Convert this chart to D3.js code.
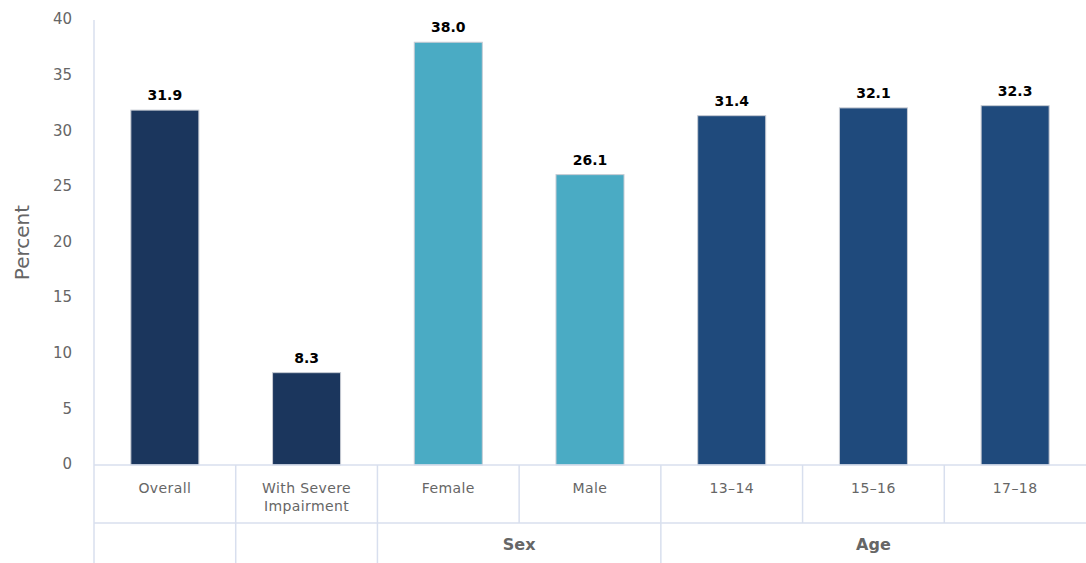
<!DOCTYPE html>
<html>
<head>
<meta charset="utf-8">
<script src="https://cdn.jsdelivr.net/npm/d3@7"></script>
<style>
  body { margin: 0; background: #fff; }
  svg { display: block; font-family: "DejaVu Sans", Verdana, sans-serif; }
</style>
</head>
<body>
<svg id="chart" width="1086" height="563"></svg>
<script>
// Share of students (percent) by subgroup
const categories = ["Overall", "With Severe Impairment", "Female", "Male", "13\u201314", "15\u201316", "17\u201318"];
const categoryLines = [["Overall"], ["With Severe", "Impairment"], ["Female"], ["Male"], ["13\u201314"], ["15\u201316"], ["17\u201318"]];
const values = [31.9, 8.3, 38.0, 26.1, 31.4, 32.1, 32.3];
const groups = ["", "", "Sex", "Sex", "Age", "Age", "Age"];
const yTicks = [0, 5, 10, 15, 20, 25, 30, 35, 40];
const groupColors = { "": "#1b365d", "Sex": "#4aabc4", "Age": "#1f4a7c" };

const svg = d3.select("#chart");
const plotLeft = 94, plotRight = 1086, plotTop = 20, baseline = 465;
const catRowBottom = 523, groupRowBottom = 563;
const gridColor = "#d8dfee";
const textColor = "#666666";

const x = d3.scaleBand().domain(categories).range([plotLeft, plotRight]).paddingInner(0).paddingOuter(0);
const y = d3.scaleLinear().domain([0, 40]).range([baseline, plotTop]);
const barW = x.bandwidth() * 0.48;

// y tick labels
svg.append("g").selectAll("text").data(yTicks).join("text")
  .attr("x", 72).attr("y", d => y(d) - 1).attr("dy", "0.35em")
  .attr("text-anchor", "end").attr("fill", textColor)
  .style("font-size", "15px").text(d => d);

// y axis title
svg.append("text")
  .attr("transform", `translate(29,${(plotTop + baseline) / 2}) rotate(-90)`)
  .attr("text-anchor", "middle").attr("fill", textColor)
  .style("font-size", "20px").text("Percent");

// bars
svg.append("g").selectAll("rect").data(values).join("rect")
  .attr("x", (d, i) => x(categories[i]) + (x.bandwidth() - barW) / 2)
  .attr("y", d => y(d))
  .attr("width", barW)
  .attr("height", d => baseline - y(d))
  .attr("fill", (d, i) => groupColors[groups[i]])
  .attr("stroke", "#c8ccd4").attr("stroke-width", 1);

// value labels
svg.append("g").selectAll("text").data(values).join("text")
  .attr("x", (d, i) => x(categories[i]) + x.bandwidth() / 2)
  .attr("y", d => y(d) - 10)
  .attr("text-anchor", "middle")
  .attr("fill", "#000")
  .attr("stroke", "#fff").attr("stroke-width", 2).attr("paint-order", "stroke")
  .style("font-size", "14px").style("font-weight", "bold")
  .text(d => d.toFixed(1));

// axis lines
const lines = svg.append("g").attr("stroke", gridColor).attr("stroke-width", 1.5);
lines.append("line").attr("x1", plotLeft).attr("x2", plotLeft).attr("y1", plotTop).attr("y2", groupRowBottom);
lines.append("line").attr("x1", plotLeft).attr("x2", plotRight).attr("y1", baseline).attr("y2", baseline);
lines.append("line").attr("x1", plotLeft).attr("x2", plotRight).attr("y1", catRowBottom).attr("y2", catRowBottom);

// category separators
categories.slice(1).forEach(c => {
  lines.append("line").attr("x1", x(c)).attr("x2", x(c)).attr("y1", baseline).attr("y2", catRowBottom);
});

// group spans (consecutive runs)
const spans = [];
categories.forEach((c, i) => {
  const last = spans[spans.length - 1];
  if (last && groups[i] !== "" && last.name === groups[i]) { last.end = i; }
  else spans.push({ name: groups[i], start: i, end: i });
});
spans.forEach(s => {
  const x0 = x(categories[s.start]);
  const x1 = x(categories[s.end]) + x.bandwidth();
  if (s.start > 0) lines.append("line").attr("x1", x0).attr("x2", x0).attr("y1", catRowBottom).attr("y2", groupRowBottom);
  if (s.name) {
    svg.append("text").attr("x", (x0 + x1) / 2).attr("y", 544).attr("dy", "0.35em")
      .attr("text-anchor", "middle").attr("fill", textColor)
      .style("font-size", "16px").style("font-weight", "bold").text(s.name);
  }
});

// category labels
categoryLines.forEach((ls, i) => {
  const cx = x(categories[i]) + x.bandwidth() / 2;
  const t = svg.append("text").attr("x", cx).attr("y", 488)
    .attr("text-anchor", "middle").attr("fill", textColor)
    .style("font-size", "14px").style("letter-spacing", "0.4px");
  ls.forEach((l, k) => t.append("tspan").attr("x", cx).attr("dy", k === 0 ? "0.35em" : "18px").text(l));
});
</script>
</body>
</html>
